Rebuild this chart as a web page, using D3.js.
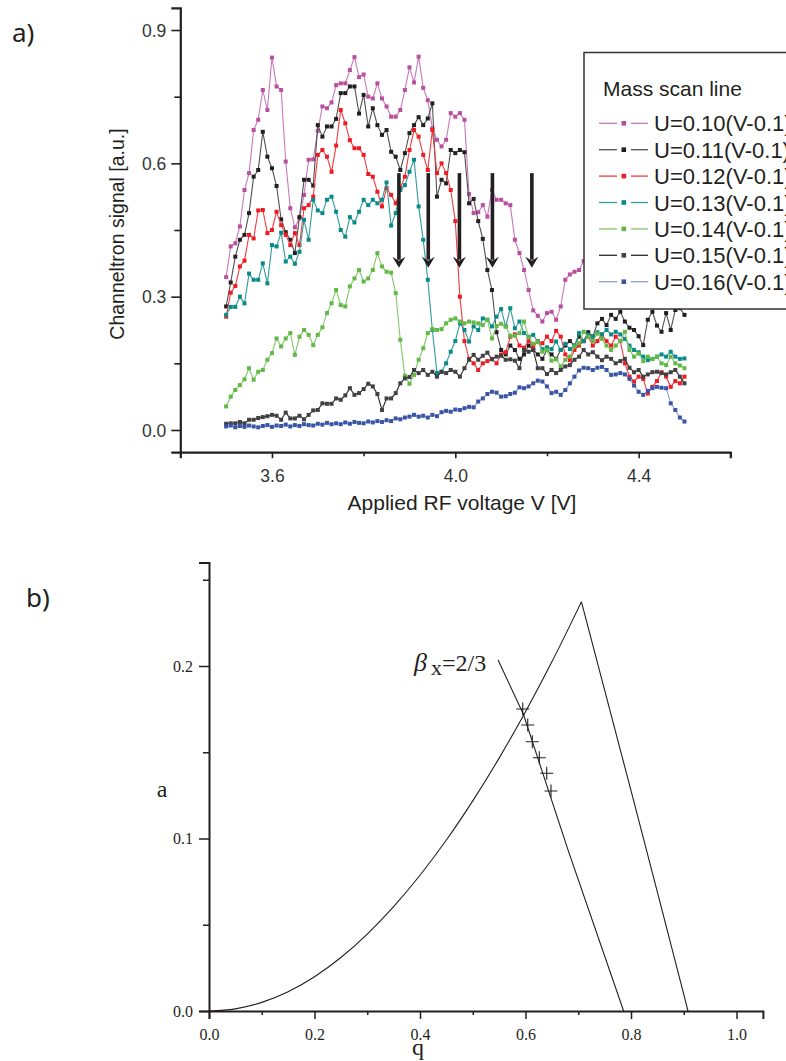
<!DOCTYPE html>
<html>
<head>
<meta charset="utf-8">
<script src="https://cdn.jsdelivr.net/npm/d3@7"></script>
<style>
  html, body { margin: 0; padding: 0; background: #fff; }
  svg { display: block; }
</style>
</head>
<body>
<svg id="fig" width="786" height="1061"></svg>
<script>
// ---------- Panel a: mass scan lines ----------
const voltage = [
  3.50,3.51,3.52,3.53,3.54,3.55,3.56,3.57,3.58,3.59,
  3.60,3.61,3.62,3.63,3.64,3.65,3.66,3.67,3.68,3.69,
  3.70,3.71,3.72,3.73,3.74,3.75,3.76,3.77,3.78,3.79,
  3.80,3.81,3.82,3.83,3.84,3.85,3.86,3.87,3.88,3.89,
  3.90,3.91,3.92,3.93,3.94,3.95,3.96,3.97,3.98,3.99,
  4.00,4.01,4.02,4.03,4.04,4.05,4.06,4.07,4.08,4.09,
  4.10,4.11,4.12,4.13,4.14,4.15,4.16,4.17,4.18,4.19,
  4.20,4.21,4.22,4.23,4.24,4.25,4.26,4.27,4.28,4.29,
  4.30,4.31,4.32,4.33,4.34,4.35,4.36,4.37,4.38,4.39,
  4.40,4.41,4.42,4.43,4.44,4.45,4.46,4.47,4.48,4.49,
  4.50
];

const signalU010 = [
  0.344,0.413,0.42,0.458,0.54,0.578,0.675,0.698,0.765,0.72,
  0.838,0.773,0.765,0.604,0.499,0.456,0.476,0.529,0.608,0.609,
  0.673,0.728,0.724,0.737,0.776,0.78,0.78,0.81,0.839,0.794,
  0.80,0.75,0.746,0.78,0.746,0.728,0.705,0.705,0.72,0.765,
  0.816,0.782,0.84,0.77,0.742,0.679,0.653,0.638,0.653,0.713,
  0.705,0.713,0.698,0.531,0.488,0.49,0.506,0.48,0.54,0.518,
  0.518,0.51,0.506,0.428,0.398,0.36,0.315,0.269,0.257,0.244,
  0.263,0.266,0.248,0.278,0.338,0.35,0.356,0.36,0.38,0.39,
  0.40,0.38,0.41,0.42,0.40,0.43,0.41,0.44,0.42,0.43,
  0.45,0.44,0.42,0.45,0.46,0.44,0.43,0.45,0.44,0.46,
  0.45
];
const signalU011 = [
  0.278,0.332,0.39,0.428,0.439,0.488,0.57,0.585,0.671,0.615,
  0.589,0.549,0.474,0.445,0.428,0.398,0.479,0.563,0.563,0.55,
  0.686,0.66,0.683,0.683,0.70,0.758,0.758,0.773,0.773,0.712,
  0.754,0.683,0.724,0.686,0.664,0.675,0.626,0.615,0.585,0.623,
  0.668,0.686,0.704,0.686,0.701,0.735,0.525,0.563,0.555,0.63,
  0.623,0.63,0.625,0.51,0.52,0.47,0.43,0.36,0.315,0.22,
  0.18,0.17,0.19,0.18,0.16,0.17,0.19,0.18,0.17,0.16,
  0.18,0.17,0.16,0.18,0.19,0.20,0.19,0.21,0.20,0.22,
  0.21,0.24,0.25,0.236,0.259,0.25,0.266,0.244,0.23,0.225,
  0.211,0.191,0.248,0.266,0.235,0.221,0.263,0.225,0.27,0.274,
  0.259
];
const signalU012 = [
  0.255,0.309,0.324,0.368,0.381,0.439,0.431,0.494,0.495,0.443,
  0.45,0.491,0.461,0.439,0.416,0.443,0.416,0.499,0.506,0.525,
  0.619,0.63,0.615,0.581,0.64,0.72,0.69,0.652,0.634,0.634,
  0.619,0.576,0.57,0.536,0.503,0.544,0.529,0.51,0.544,0.57,
  0.63,0.675,0.66,0.619,0.585,0.675,0.578,0.60,0.578,0.54,
  0.47,0.30,0.20,0.16,0.15,0.135,0.15,0.155,0.16,0.15,
  0.17,0.175,0.21,0.215,0.19,0.185,0.20,0.187,0.20,0.195,
  0.21,0.20,0.223,0.21,0.17,0.157,0.18,0.19,0.20,0.21,
  0.19,0.20,0.215,0.20,0.19,0.21,0.20,0.15,0.12,0.109,
  0.12,0.115,0.082,0.097,0.11,0.13,0.12,0.097,0.11,0.105,
  0.12
];
const signalU013 = [
  0.259,0.277,0.277,0.30,0.285,0.352,0.338,0.338,0.375,0.33,
  0.416,0.413,0.444,0.379,0.39,0.374,0.401,0.473,0.428,0.518,
  0.494,0.488,0.518,0.525,0.491,0.45,0.435,0.479,0.467,0.491,
  0.518,0.506,0.518,0.51,0.518,0.557,0.46,0.488,0.54,0.551,
  0.581,0.608,0.503,0.428,0.338,0.225,0.128,0.131,0.15,0.176,
  0.20,0.24,0.225,0.199,0.233,0.225,0.251,0.248,0.233,0.255,
  0.272,0.233,0.274,0.229,0.244,0.218,0.21,0.214,0.199,0.182,
  0.186,0.182,0.199,0.18,0.194,0.182,0.189,0.218,0.20,0.214,
  0.21,0.22,0.215,0.225,0.215,0.221,0.215,0.205,0.19,0.18,
  0.175,0.165,0.157,0.16,0.165,0.17,0.165,0.176,0.165,0.16,
  0.161
];
const signalU014 = [
  0.053,0.075,0.09,0.101,0.114,0.139,0.113,0.131,0.135,0.158,
  0.173,0.206,0.188,0.206,0.218,0.169,0.21,0.225,0.214,0.191,
  0.214,0.231,0.263,0.285,0.315,0.281,0.278,0.323,0.341,0.36,
  0.334,0.341,0.36,0.398,0.368,0.356,0.354,0.308,0.203,0.122,
  0.104,0.124,0.158,0.184,0.218,0.227,0.225,0.227,0.24,0.248,
  0.251,0.244,0.24,0.244,0.242,0.24,0.236,0.248,0.206,0.234,
  0.239,0.233,0.212,0.212,0.218,0.244,0.209,0.194,0.199,0.176,
  0.18,0.156,0.159,0.143,0.158,0.165,0.188,0.195,0.221,0.21,
  0.20,0.217,0.205,0.19,0.18,0.19,0.20,0.221,0.18,0.165,
  0.172,0.155,0.165,0.16,0.165,0.15,0.146,0.165,0.15,0.145,
  0.139
];
const signalU015 = [
  0.014,0.015,0.015,0.018,0.015,0.023,0.023,0.027,0.029,0.031,
  0.034,0.032,0.023,0.039,0.026,0.026,0.032,0.024,0.034,0.044,
  0.045,0.06,0.059,0.059,0.071,0.068,0.078,0.094,0.079,0.083,
  0.092,0.104,0.098,0.081,0.045,0.071,0.071,0.083,0.105,0.116,
  0.119,0.135,0.128,0.135,0.124,0.131,0.12,0.131,0.128,0.135,
  0.131,0.12,0.139,0.158,0.169,0.158,0.167,0.174,0.159,0.165,
  0.167,0.158,0.159,0.156,0.139,0.18,0.176,0.18,0.139,0.139,
  0.126,0.135,0.128,0.135,0.143,0.146,0.158,0.165,0.18,0.17,
  0.175,0.165,0.157,0.165,0.16,0.15,0.155,0.16,0.14,0.13,
  0.135,0.12,0.125,0.13,0.131,0.128,0.125,0.13,0.135,0.12,
  0.105
];
const signalU016 = [
  0.008,0.01,0.006,0.009,0.007,0.01,0.008,0.006,0.009,0.011,
  0.007,0.01,0.009,0.012,0.008,0.011,0.009,0.013,0.011,0.01,
  0.014,0.012,0.016,0.013,0.015,0.013,0.017,0.014,0.018,0.016,
  0.015,0.019,0.017,0.02,0.018,0.022,0.02,0.026,0.024,0.028,
  0.03,0.034,0.03,0.032,0.028,0.034,0.031,0.04,0.043,0.041,
  0.046,0.045,0.049,0.052,0.051,0.064,0.071,0.081,0.086,0.084,
  0.075,0.076,0.081,0.084,0.096,0.094,0.098,0.105,0.111,0.109,
  0.098,0.083,0.086,0.079,0.09,0.105,0.12,0.134,0.14,0.139,
  0.135,0.14,0.142,0.135,0.124,0.125,0.128,0.125,0.115,0.10,
  0.086,0.079,0.088,0.094,0.097,0.095,0.094,0.06,0.045,0.028,
  0.019
];

const seriesLabels = [
  "U=0.10(V-0.1)", "U=0.11(V-0.1)", "U=0.12(V-0.1)", "U=0.13(V-0.1)",
  "U=0.14(V-0.1)", "U=0.15(V-0.1)", "U=0.16(V-0.1)"
];
const seriesValues = [signalU010, signalU011, signalU012, signalU013, signalU014, signalU015, signalU016];
const markerColors = ["#b8509e", "#231f20", "#ed1c24", "#0b8a8a", "#63b946", "#414042", "#3b55a6"];
const lineColors   = ["#c77ab9", "#505052", "#ef3b42", "#2f9a99", "#82c76a", "#2a2a2b", "#8c9dd2"];

// cut-off arrows (voltage positions, start and tip heights in signal units)
const arrowVoltage = [3.877, 3.941, 4.009, 4.081, 4.167];
const arrowTop = 0.578, arrowTip = 0.365;

const xTicksA = [3.4, 3.6, 3.8, 4.0, 4.2, 4.4, 4.6];
const xLabelsA = [3.6, 4.0, 4.4];
const yTicksA = [0, 0.15, 0.3, 0.45, 0.6, 0.75, 0.9];
const yLabelsA = [0, 0.3, 0.6, 0.9];

// ---------- Panel b: stability diagram ----------
const edgeLeftQ = [0, 0.05, 0.1, 0.15, 0.2, 0.25, 0.3, 0.35, 0.4, 0.45, 0.5, 0.55, 0.6, 0.65, 0.7, 0.706];
const edgeLeftA = [0, 0.00125, 0.005, 0.0112, 0.0199, 0.0310, 0.0446, 0.0605, 0.0787, 0.0991, 0.1218, 0.1466, 0.1735, 0.2024, 0.2334, 0.2372];
const edgeRightQ = [0.706, 0.75, 0.8, 0.85, 0.9, 0.908];
const edgeRightA = [0.2372, 0.186, 0.1277, 0.0689, 0.0097, 0];
const betaLineQ = [0.548, 0.596, 0.681, 0.786];
const betaLineA = [0.2035, 0.172, 0.093, 0];
const cutoffQ = [0.5947, 0.6042, 0.6129, 0.6262, 0.6402, 0.6483];
const cutoffA = [0.1751, 0.1658, 0.1561, 0.1468, 0.1378, 0.1275];

const xTicksB = [0, 0.1, 0.2, 0.3, 0.4, 0.5, 0.6, 0.7, 0.8, 0.9, 1.0];
const xLabelsB = [0, 0.2, 0.4, 0.6, 0.8, 1.0];
const yTicksB = [0, 0.05, 0.1, 0.15, 0.2, 0.25];
const yLabelsB = [0, 0.1, 0.2];

// ---------- drawing ----------
const svg = d3.select("#fig");
const ink = "#231f20";
const sans = "'Liberation Sans', Arial, Helvetica, sans-serif";
const serif = "'Liberation Serif', 'Times New Roman', serif";
const near = (a, b) => Math.abs(a - b) < 1e-9;

svg.append("rect").attr("width", 786).attr("height", 1061).attr("fill", "#fff");

// panel tags
svg.append("text").attr("x", 12).attr("y", 42).text("a)")
  .attr("font-family", "'Noto Sans', 'Open Sans', sans-serif").attr("font-size", 26).attr("fill", ink);
svg.append("text").attr("x", 26).attr("y", 607).text("b)")
  .attr("font-family", "'Noto Sans', 'Open Sans', sans-serif").attr("font-size", 26).attr("fill", ink);

// ----- panel a -----
const xA = d3.scaleLinear().domain([3.4, 4.6]).range([180.3, 730.3]);
const yA = d3.scaleLinear().domain([-0.05, 0.95]).range([452.2, 7.8]);

const gA = svg.append("g");
const plotA = gA.append("g");

seriesValues.forEach((vals, i) => {
  const pts = voltage.map((v, j) => [v, vals[j]]);
  plotA.append("path")
    .datum(pts)
    .attr("fill", "none")
    .attr("stroke", lineColors[i])
    .attr("stroke-width", 1.1)
    .attr("d", d3.line().x(d => xA(d[0])).y(d => yA(d[1])));
  plotA.append("g").selectAll("rect")
    .data(pts).join("rect")
    .attr("x", d => xA(d[0]) - 2)
    .attr("y", d => yA(d[1]) - 2)
    .attr("width", 4).attr("height", 4)
    .attr("fill", markerColors[i]);
});

// arrows marking the cut-off of each scan line
const arrows = gA.append("g");
arrowVoltage.forEach(v => {
  const x = xA(v), y0 = yA(arrowTop), y1 = yA(arrowTip);
  arrows.append("line")
    .attr("x1", x).attr("x2", x).attr("y1", y0).attr("y2", y1 - 8)
    .attr("stroke", ink).attr("stroke-width", 3.6);
  arrows.append("path")
    .attr("d", `M${x - 6.5},${y1 - 11} L${x},${y1 - 7} L${x + 6.5},${y1 - 11} L${x},${y1} Z`)
    .attr("fill", ink);
});

// axes
const axA_x = gA.append("g").attr("transform", `translate(0,${yA(-0.05)})`)
  .call(d3.axisBottom(xA).tickValues(xTicksA).tickSizeOuter(0).tickSize(6).tickPadding(11)
    .tickFormat(d => xLabelsA.some(l => near(l, d)) ? d3.format(".1f")(d) : ""));
axA_x.selectAll(".tick line").attr("y2", d => xLabelsA.some(l => near(l, d)) ? 6 : 4);

const axA_y = gA.append("g").attr("transform", `translate(${xA(3.4)},0)`)
  .call(d3.axisLeft(yA).tickValues(yTicksA).tickSizeOuter(0).tickSize(9).tickPadding(5)
    .tickFormat(d => yLabelsA.some(l => near(l, d)) ? d3.format(".1f")(d) : ""));
axA_y.selectAll(".tick line").attr("x2", d => yLabelsA.some(l => near(l, d)) ? -9 : -6);

[axA_x, axA_y].forEach(ax => {
  ax.select(".domain").attr("stroke", ink).attr("stroke-width", 2.2);
  ax.selectAll(".tick line").attr("stroke", ink).attr("stroke-width", 1.6);
  ax.selectAll(".tick text").attr("fill", "#333").attr("font-family", sans).attr("font-size", 17.5);
});
axA_y.selectAll(".tick text").attr("dy", "0.36em");

gA.append("text")
  .attr("transform", "translate(124,234) rotate(-90)")
  .attr("text-anchor", "middle")
  .attr("font-family", sans).attr("font-size", 19.5).attr("fill", ink)
  .text("Channeltron signal [a.u.]");
gA.append("text")
  .attr("x", 462).attr("y", 510)
  .attr("text-anchor", "middle")
  .attr("font-family", sans).attr("font-size", 21).attr("fill", ink)
  .text("Applied RF voltage V [V]");

// legend
const legend = gA.append("g");
legend.append("rect")
  .attr("x", 584).attr("y", 52.5).attr("width", 230).attr("height", 256.5)
  .attr("fill", "#fff").attr("stroke", "#333").attr("stroke-width", 1.5);
legend.append("text")
  .attr("x", 603).attr("y", 96)
  .attr("font-family", sans).attr("font-size", 21).attr("fill", ink)
  .text("Mass scan line");
seriesLabels.forEach((label, i) => {
  const cy = 123.3 + i * 26.4;
  legend.append("line").attr("x1", 599).attr("x2", 617).attr("y1", cy).attr("y2", cy)
    .attr("stroke", lineColors[i]).attr("stroke-width", 1.3);
  legend.append("line").attr("x1", 631).attr("x2", 648).attr("y1", cy).attr("y2", cy)
    .attr("stroke", lineColors[i]).attr("stroke-width", 1.3);
  legend.append("rect").attr("x", 621.5).attr("y", cy - 2.3).attr("width", 4.6).attr("height", 4.6)
    .attr("fill", markerColors[i]);
  legend.append("text")
    .attr("x", 654).attr("y", cy + 8)
    .attr("font-family", sans).attr("font-size", 22).attr("fill", ink)
    .text(label);
});

// ----- panel b -----
const xB = d3.scaleLinear().domain([0, 1.05]).range([209, 762.9]);
const yB = d3.scaleLinear().domain([0, 0.26]).range([1011, 562.5]);
const gB = svg.append("g");

const curve = d3.line().x(d => xB(d[0])).y(d => yB(d[1]));
gB.append("path")
  .datum(edgeLeftQ.map((q, i) => [q, edgeLeftA[i]]))
  .attr("fill", "none").attr("stroke", ink).attr("stroke-width", 1.1)
  .attr("d", curve.curve(d3.curveMonotoneX));
gB.append("path")
  .datum(edgeRightQ.map((q, i) => [q, edgeRightA[i]]))
  .attr("fill", "none").attr("stroke", ink).attr("stroke-width", 1.1)
  .attr("d", curve.curve(d3.curveLinear));
gB.append("path")
  .datum(betaLineQ.map((q, i) => [q, betaLineA[i]]))
  .attr("fill", "none").attr("stroke", ink).attr("stroke-width", 1.1)
  .attr("d", curve.curve(d3.curveLinear));

gB.append("g").selectAll("path")
  .data(cutoffQ.map((q, i) => [q, cutoffA[i]]))
  .join("path")
  .attr("transform", d => `translate(${xB(d[0])},${yB(d[1])})`)
  .attr("d", "M-6.5,0H6.5M0,-6.5V6.5")
  .attr("stroke", ink).attr("stroke-width", 1.1).attr("fill", "none");

const betaLabel = gB.append("text")
  .attr("x", 414).attr("y", 671)
  .attr("font-family", serif).attr("fill", ink);
betaLabel.append("tspan").attr("font-size", 26).attr("font-style", "italic").text("β");
betaLabel.append("tspan").attr("font-size", 22).attr("dx", 4).attr("dy", 4).text("x");
betaLabel.append("tspan").attr("font-size", 24).attr("dy", -4).text("=2/3");

const axB_x = gB.append("g").attr("transform", `translate(0,${yB(0)})`)
  .call(d3.axisBottom(xB).tickValues(xTicksB).tickSizeOuter(0).tickSize(8).tickPadding(9.5)
    .tickFormat(d => xLabelsB.some(l => near(l, d)) ? d3.format(".1f")(d) : ""));
axB_x.selectAll(".tick line").attr("y2", d => xLabelsB.some(l => near(l, d)) ? 8 : 4);

const axB_y = gB.append("g").attr("transform", `translate(${xB(0)},0)`)
  .call(d3.axisLeft(yB).tickValues(yTicksB).tickSizeOuter(0).tickSize(10).tickPadding(6)
    .tickFormat(d => yLabelsB.some(l => near(l, d)) ? d3.format(".1f")(d) : ""));
axB_y.selectAll(".tick line").attr("x2", d => yLabelsB.some(l => near(l, d)) ? -10 : -6);

[axB_x, axB_y].forEach(ax => {
  ax.select(".domain").attr("stroke", ink).attr("stroke-width", 2);
  ax.selectAll(".tick line").attr("stroke", ink).attr("stroke-width", 1.5);
  ax.selectAll(".tick text").attr("fill", ink).attr("font-family", serif).attr("font-size", 16);
});
axB_y.selectAll(".tick text").attr("dy", "0.33em");

gB.append("text").attr("x", 418).attr("y", 1055).attr("text-anchor", "middle")
  .attr("font-family", serif).attr("font-size", 24).attr("fill", ink).text("q");
gB.append("text").attr("x", 162).attr("y", 797).attr("text-anchor", "middle")
  .attr("font-family", serif).attr("font-size", 24).attr("fill", ink).text("a");
</script>
</body>
</html>
